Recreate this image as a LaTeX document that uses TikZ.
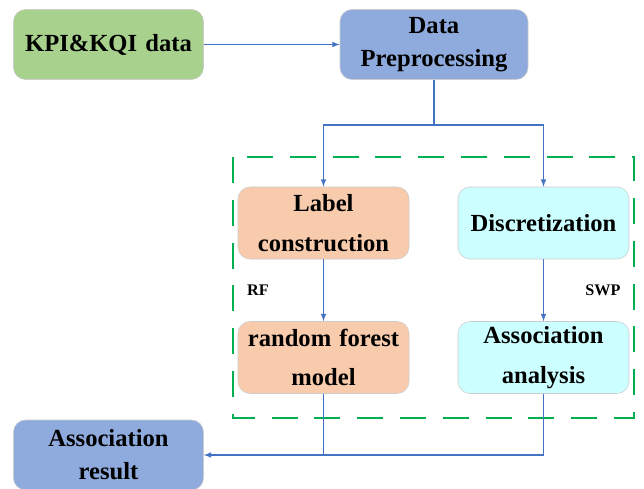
\documentclass[tikz,border=0pt]{standalone}
\usepackage{fontspec}
\setmainfont{Liberation Serif}
\usetikzlibrary{shapes.geometric, arrows}
\definecolor{kgreen}{RGB}{169,209,142}
\definecolor{kblue}{RGB}{143,170,220}
\definecolor{kpeach}{RGB}{248,203,173}
\definecolor{kcyan}{RGB}{204,255,255}
\definecolor{kline}{RGB}{68,114,196}
\definecolor{kdash}{RGB}{0,176,80}
\tikzstyle{databox} = [rectangle, rounded corners=0.3cm,
minimum width=4.75cm,
minimum height=1.75cm,
text centered,
text width=4.4cm,
draw=black!20,
font=\fontsize{17.5}{23.5}\selectfont\bfseries]
\tikzstyle{rfbox} = [databox,
minimum width=4.275cm,
minimum height=1.8cm,
text width=4.0cm,
font=\fontsize{17.5}{28}\selectfont\bfseries,
fill=kpeach]
\tikzstyle{swpbox} = [rfbox, fill=kcyan]
\tikzstyle{tag} = [font=\fontsize{11.5}{13}\selectfont\bfseries]
\tikzstyle{arrow} = [line width=0.8pt, draw=kline, ->, >=latex]

\begin{document}
\begin{tikzpicture}
\useasboundingbox (0,0) rectangle (16.1,12.2);

\node (kpi) [databox, fill=kgreen] at (2.7125,11.0875) {KPI\&KQI data};
\node (prep) [databox, fill=kblue, minimum width=4.7cm] at (10.85,11.0875) {Data\\Preprocessing};
\node (label) [rfbox] at (8.0875,6.625) {Label\\construction};
\node (disc) [swpbox] at (13.5875,6.625) {Discretization};
\node (forest) [rfbox] at (8.0875,3.2625) {random forest\\model};
\node (assoc) [swpbox] at (13.5875,3.2625) {Association\\analysis};
\node (result) [databox, fill=kblue] at (2.7125,0.825) {Association\\result};
\node (rf) [tag] at (6.45,4.95) {RF};
\node (swp) [tag] at (15.075,4.95) {SWP};

\draw [kdash, line width=1pt, dash pattern=on 0.65cm off 0.42cm] (5.825,8.275) rectangle (15.85,1.75);

\coordinate (split) at (10.85,9.075);
\draw [arrow] (kpi) -- (prep);
\draw [arrow, -] (prep) -- (split);
\draw [arrow] (split) -| (label);
\draw [arrow] (split) -| (disc);
\draw [arrow] (label) -- (forest);
\draw [arrow] (disc) -- (assoc);
\draw [arrow] (assoc) |- (result);
\draw [arrow, -] (forest) -- (forest |- result.east);
\end{tikzpicture}
\end{document}
